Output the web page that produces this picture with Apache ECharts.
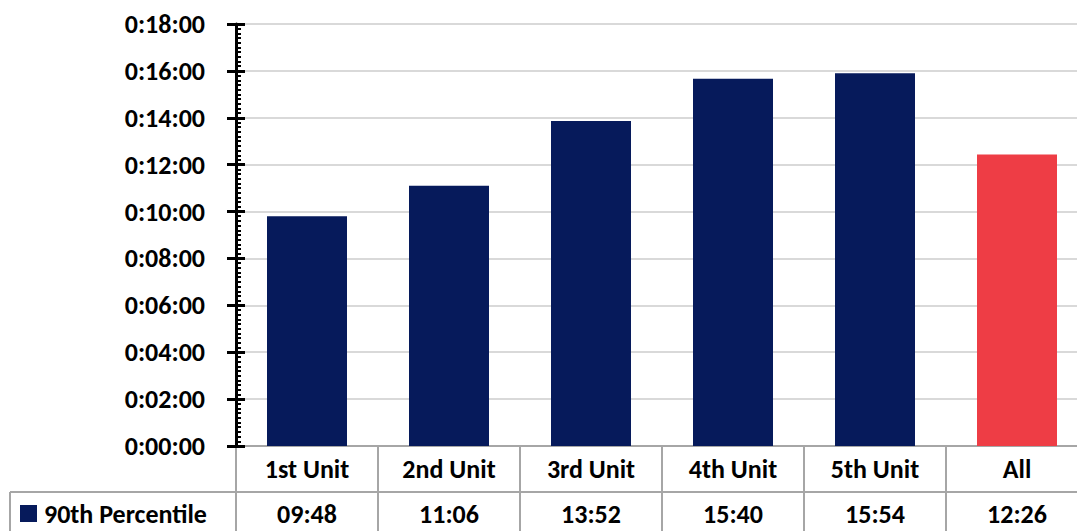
<!DOCTYPE html>
<html><head><meta charset="utf-8">
<script src="https://cdn.jsdelivr.net/npm/echarts@6/dist/echarts.min.js"></script>
<style>html,body{margin:0;padding:0;background:#fff;overflow:hidden}#c{width:1077px;height:531px}</style>
</head><body><div id="c"></div>
<script>
// ---- data ----
const categories = ['1st Unit', '2nd Unit', '3rd Unit', '4th Unit', '5th Unit', 'All'];
const seriesName = '90th Percentile';
const valueSeconds = [588, 666, 832, 940, 954, 746]; // 09:48, 11:06, 13:52, 15:40, 15:54, 12:26
const yMin = 0, yMax = 1080, yStep = 120; // 0:00:00 .. 0:18:00 every 0:02:00
const highlightCategory = 'All';

// ---- styles ----
const NAVY = '#061a5b', RED = '#ee3d45', GRID = '#d9d9d9', TABLE = '#a6a6a6';
const FONT = 'Carlito, Lato, "Open Sans", sans-serif';
const FS = 26;

const pad = n => String(n).padStart(2, '0');
const fmtAxis = s => Math.floor(s / 3600) + ':' + pad(Math.floor(s % 3600 / 60)) + ':' + pad(s % 60);
const fmtVal = s => pad(Math.floor(s / 60)) + ':' + pad(s % 60);

const chart = echarts.init(document.getElementById('c'), null, { renderer: 'svg' });
const yBase = { type: 'value', min: yMin, max: yMax, interval: yStep, position: 'left' };
chart.setOption({
  animation: false,
  grid: { left: 236, width: 852, top: 24, height: 422, containLabel: false, outerBoundsMode: 'none' },
  xAxis: {
    type: 'category', data: categories,
    axisLine: { show: true, lineStyle: { color: TABLE, width: 2 } },
    axisTick: { show: false }, axisLabel: { show: false }
  },
  yAxis: [
    Object.assign({}, yBase, {
      axisLine: { show: true, lineStyle: { color: '#000', width: 3 } },
      axisTick: { show: true, inside: true, length: 9, lineStyle: { color: '#000', width: 3 } },
      minorTick: { show: true, splitNumber: 10, length: 5, lineStyle: { color: '#000', width: 2 } },
      splitLine: { show: true, lineStyle: { color: GRID, width: 2 } },
      axisLabel: { margin: 31, formatter: fmtAxis, color: '#000', fontFamily: FONT, fontWeight: 'bold', fontSize: FS }
    }),
    Object.assign({}, yBase, {
      axisLine: { show: false },
      axisTick: { show: true, inside: false, length: 9, lineStyle: { color: '#000', width: 3 } },
      splitLine: { show: false }, axisLabel: { show: false }
    })
  ],
  series: [{
    name: seriesName, type: 'bar', yAxisIndex: 0, barWidth: 80,
    data: valueSeconds,
    itemStyle: { color: p => categories[p.dataIndex] === highlightCategory ? RED : NAVY }
  }]
});

// ---- data table under the plot, positioned from the axis scales ----
const W = 1077, H = 531;
const cx = categories.map((_, i) => chart.convertToPixel({ xAxisIndex: 0 }, i));
const step = cx[1] - cx[0];
const plotBottom = chart.convertToPixel({ yAxisIndex: 0 }, yMin);
const rowSplit = plotBottom + 46;
const leftEdge = 10;
const g = [];
const line = (x1, y1, x2, y2) => g.push({ type: 'line', silent: true, shape: { x1, y1, x2, y2 }, style: { stroke: TABLE, lineWidth: 2 } });
const text = (x, y, t, align) => g.push({ type: 'text', silent: true, x, y, style: { text: t, align: align || 'center', verticalAlign: 'middle', fill: '#000', font: 'bold ' + FS + 'px ' + FONT } });

line(leftEdge, rowSplit, W, rowSplit);
line(leftEdge, rowSplit, leftEdge, H);
for (let i = 0; i <= categories.length; i++) {
  const bx = cx[0] - step / 2 + i * step;
  line(bx, i === 0 ? plotBottom + 1 : plotBottom, bx, H);
}
categories.forEach((c, i) => {
  text(cx[i], (plotBottom + rowSplit) / 2, c);
  text(cx[i], rowSplit + 22, fmtVal(valueSeconds[i]));
});
g.push({ type: 'rect', silent: true, shape: { x: 20, y: rowSplit + 13, width: 17, height: 17 }, style: { fill: NAVY } });
text(44, rowSplit + 22, seriesName, 'left');
chart.setOption({ graphic: g });
</script></body></html>
